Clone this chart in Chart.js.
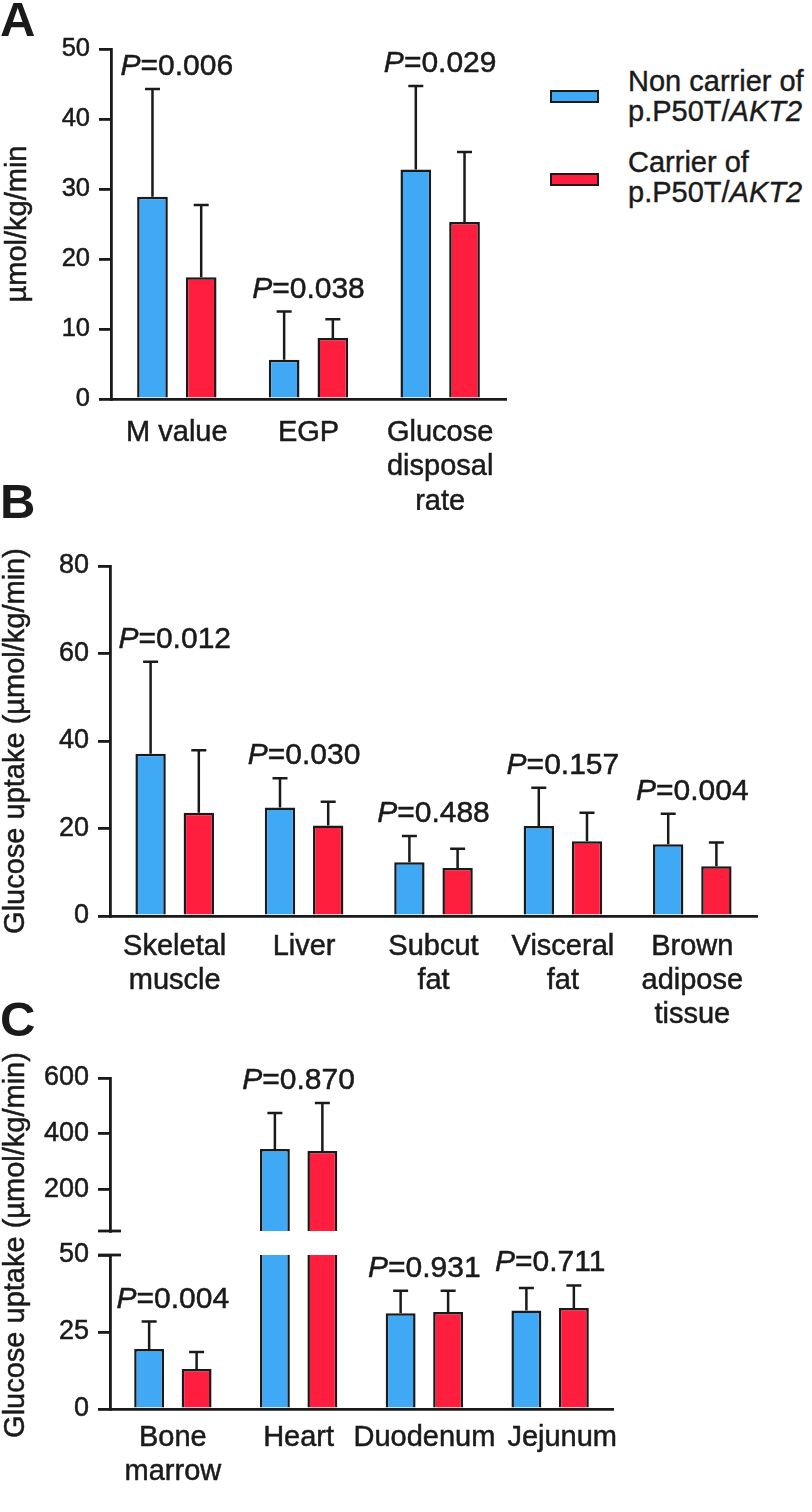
<!DOCTYPE html>
<html>
<head>
<meta charset="utf-8">
<script src="https://cdn.jsdelivr.net/npm/chart.js@4.4.1/dist/chart.umd.min.js"></script>
<style>
  body { margin: 0; background: #fff; width: 812px; height: 1512px; position: relative; overflow: hidden;
         font-family: "Liberation Sans", Arial, sans-serif; color: #1a1a1a; }
  canvas { position: absolute; left: 0; }
  .panel { position: absolute; left: 0; font-weight: bold; font-size: 49px; line-height: 49px; }
  .swatch { position: absolute; left: 550px; width: 49px; height: 13px; border: 2.5px solid #1a1a1a; box-sizing: border-box; }
  .legtext { position: absolute; left: 628px; font-size: 29px; line-height: 30px; white-space: nowrap;
             -webkit-text-stroke: 0.4px #1a1a1a; }
</style>
</head>
<body>
<canvas id="chartA" width="540" height="510" style="top:0px"></canvas>
<canvas id="chartB" width="812" height="510" style="top:530px"></canvas>
<canvas id="chartCTop" width="700" height="472" style="top:1040px"></canvas>
<canvas id="chartCBottom" width="700" height="472" style="top:1040px"></canvas>
<div class="panel" style="top:-5px">A</div>
<div class="panel" style="top:477px">B</div>
<div class="panel" style="top:995px">C</div>
<div id="legend"></div>
<script>
const ink = '#1a1a1a';
const fontFamily = '"Liberation Sans", Arial, sans-serif';
Chart.defaults.font.family = fontFamily;

// legend / series
const seriesNames = ['Non carrier of', 'Carrier of'];
const variantText = 'p.P50T/';
const geneText = 'AKT2';
const seriesColors = ['#3FA9F5', '#FF1E3E'];

// panel A
const catsA = [['M value'], ['EGP'], ['Glucose', 'disposal', 'rate']];
const nonA = [28.9, 5.6, 32.8];
const nonAsd = [15.4, 6.9, 11.9];
const carA = [17.4, 8.7, 25.3];
const carAsd = [10.3, 2.7, 10.0];
const pA = ['0.006', '0.038', '0.029'];
const ticksA = [0, 10, 20, 30, 40, 50];

// panel B
const catsB = [['Skeletal', 'muscle'], ['Liver'], ['Subcut', 'fat'], ['Visceral', 'fat'], ['Brown', 'adipose', 'tissue']];
const nonB = [37.1, 24.8, 12.3, 20.6, 16.4];
const nonBsd = [21.0, 6.7, 6.0, 8.7, 7.0];
const carB = [23.6, 20.7, 11.0, 17.1, 11.4];
const carBsd = [14.3, 5.4, 4.4, 6.5, 5.4];
const pB = ['0.012', '0.030', '0.488', '0.157', '0.004'];
const ticksB = [0, 20, 40, 60, 80];

// panel C (broken axis at 50)
const catsC = [['Bone', 'marrow'], ['Heart'], ['Duodenum'], ['Jejunum']];
const nonC = [19.5, 345, 31.1, 32.0];
const nonCsd = [8.9, 129, 7.3, 7.3];
const carC = [13.0, 338, 31.5, 32.8];
const carCsd = [5.5, 172, 6.9, 7.3];
const pC = ['0.004', '0.870', '0.931', '0.711'];
const ticksCLow = [0, 25, 50];
const ticksCHigh = [200, 400, 600];
const cBreak = 50;

// legend
const legendTops = [[66, 90], [147, 173]];
const legend = document.getElementById('legend');
seriesNames.forEach((name, k) => {
  const sw = document.createElement('div');
  sw.className = 'swatch';
  sw.style.top = legendTops[k][1] + 'px';
  sw.style.background = seriesColors[k];
  legend.appendChild(sw);
  const tx = document.createElement('div');
  tx.className = 'legtext';
  tx.style.top = legendTops[k][0] + 'px';
  tx.innerHTML = name + '<br>' + variantText + '<i>' + geneText + '</i>';
  legend.appendChild(tx);
});

// error bars, P values, axis title, break marks
const annotPlugin = {
  id: 'annot',
  afterDatasetsDraw(chart, args, opts) {
    const ctx = chart.ctx, xs = chart.scales.x, ys = chart.scales.y;
    const tops = [];
    ctx.save();
    ctx.strokeStyle = ink;
    ctx.lineWidth = 2.5;
    chart.data.datasets.forEach((ds, di) => {
      chart.getDatasetMeta(di).data.forEach((bar, i) => {
        const v = ds.data[i];
        if (v == null) return;
        const t = v + ds.sd[i];
        if (t > ys.max) return;
        const py = ys.getPixelForValue(t);
        ctx.beginPath();
        ctx.moveTo(bar.x, bar.y);
        ctx.lineTo(bar.x, py);
        ctx.moveTo(bar.x - 7.5, py);
        ctx.lineTo(bar.x + 7.5, py);
        ctx.stroke();
        tops[i] = Math.min(tops[i] === undefined ? Infinity : tops[i], py);
      });
    });
    const size = 30;
    const fN = size + 'px ' + fontFamily, fI = 'italic ' + size + 'px ' + fontFamily;
    ctx.fillStyle = ink;
    ctx.lineWidth = 0.5;
    ctx.textAlign = 'left';
    ctx.textBaseline = 'alphabetic';
    (opts.pvals || []).forEach((p, i) => {
      if (tops[i] === undefined) return;
      const cx = xs.getPixelForValue(i);
      const y = tops[i] - 14;
      ctx.font = fI;
      const wP = ctx.measureText('P').width;
      ctx.font = fN;
      const rest = '=' + p;
      const wR = ctx.measureText(rest).width;
      const x0 = cx - (wP + wR) / 2;
      ctx.font = fI;
      ctx.fillText('P', x0, y);
      ctx.strokeText('P', x0, y);
      ctx.font = fN;
      ctx.fillText(rest, x0 + wP, y);
      ctx.strokeText(rest, x0 + wP, y);
    });
    ctx.restore();
  },
  afterDraw(chart, args, opts) {
    const ctx = chart.ctx, a = chart.chartArea;
    ctx.save();
    if (opts.title) {
      ctx.fillStyle = ink;
      ctx.strokeStyle = ink;
      ctx.lineWidth = 0.5;
      ctx.font = '29px ' + fontFamily;
      ctx.textAlign = 'center';
      ctx.textBaseline = 'alphabetic';
      ctx.translate(opts.title.x, opts.title.y);
      ctx.rotate(-Math.PI / 2);
      ctx.fillText(opts.title.text, 0, 0);
      ctx.strokeText(opts.title.text, 0, 0);
      ctx.setTransform(1, 0, 0, 1, 0, 0);
    }
    if (opts.breakMark) {
      const y = opts.breakMark === 'bottom' ? a.bottom : a.top;
      ctx.strokeStyle = ink;
      ctx.lineWidth = 2.8;
      ctx.beginPath();
      ctx.moveTo(a.left - 12, y);
      ctx.lineTo(a.left + 11, y);
      ctx.stroke();
    }
    ctx.restore();
  }
};

function barChart(id, o) {
  const canvas = document.getElementById(id);
  const W = canvas.width, H = canvas.height;
  return new Chart(canvas, {
    type: 'bar',
    data: {
      labels: o.labels,
      datasets: o.series.map((s, k) => ({
        label: seriesNames[k],
        data: s.data,
        sd: s.sd,
        backgroundColor: seriesColors[k],
        borderColor: ink,
        borderWidth: 2.5,
        categoryPercentage: o.catPct,
        barPercentage: 0.63,
        clip: 0
      }))
    },
    options: {
      responsive: false,
      animation: false,
      events: [],
      layout: { padding: { left: 0, top: o.area.top, right: W - o.area.right, bottom: o.showX ? 0 : H - o.area.bottom } },
      plugins: {
        legend: { display: false },
        tooltip: { enabled: false },
        annot: { pvals: o.pvals, title: o.title, breakMark: o.breakMark }
      },
      scales: {
        x: {
          display: o.showX,
          grid: { display: false, drawTicks: false },
          border: { display: true, color: ink, width: 2.8 },
          ticks: {
            color: ink, font: { size: 29, lineHeight: 1.18 }, padding: o.xPad, maxRotation: 0, autoSkip: false,
            textStrokeColor: ink, textStrokeWidth: 0.5,
            callback: function (v, i) {
              const lab = this.getLabelForValue(v);
              const pad = (o.labelPad && o.labelPad[i]) || '';
              return Array.isArray(lab) ? lab.map(l => pad + l) : pad + lab;
            }
          },
          afterFit: o.showX ? (s => { s.height = H - o.area.bottom; }) : undefined
        },
        y: {
          min: o.yMin,
          max: o.yMax,
          grid: { drawOnChartArea: false, drawTicks: true, tickLength: 12, color: ink, lineWidth: 2.8 },
          border: { display: true, color: ink, width: 2.8 },
          ticks: { color: ink, font: { size: o.tickSize }, padding: 9, textStrokeColor: ink, textStrokeWidth: 0.5 },
          afterBuildTicks: s => { s.ticks = o.yTicks.map(v => ({ value: v })); },
          afterFit: s => { s.width = o.area.left; }
        }
      }
    },
    plugins: [annotPlugin]
  });
}

barChart('chartA', {
  labels: catsA,
  series: [{ data: nonA, sd: nonAsd }, { data: carA, sd: carAsd }],
  yMin: 0, yMax: 50, yTicks: ticksA, tickSize: 25.5,
  area: { left: 111, top: 49, right: 506, bottom: 399 },
  catPct: 0.74, xPad: 17, showX: true,
  pvals: pA,
  title: { text: 'µmol/kg/min', x: 26, y: 224 }
});

barChart('chartB', {
  labels: catsB,
  series: [{ data: nonB, sd: nonBsd }, { data: carB, sd: carBsd }],
  yMin: 0, yMax: 80, yTicks: ticksB, tickSize: 27,
  area: { left: 110, top: 36, right: 757, bottom: 386 },
  catPct: 0.745, xPad: 13.5, showX: true,
  pvals: pB,
  title: { text: 'Glucose uptake (µmol/kg/min)', x: 24, y: 211 }
});

barChart('chartCTop', {
  labels: catsC,
  series: [
    { data: nonC.map(v => v > cBreak ? v : null), sd: nonCsd },
    { data: carC.map(v => v > cBreak ? v : null), sd: carCsd }
  ],
  yMin: cBreak, yMax: 600, yTicks: ticksCHigh, tickSize: 27,
  area: { left: 110, top: 38, right: 613, bottom: 191 },
  catPct: 0.755, xPad: 12, showX: false,
  pvals: pC,
  breakMark: 'bottom'
});

barChart('chartCBottom', {
  labels: catsC,
  series: [{ data: nonC, sd: nonCsd }, { data: carC, sd: carCsd }],
  yMin: 0, yMax: cBreak, yTicks: ticksCLow, tickSize: 27,
  area: { left: 110, top: 215, right: 613, bottom: 369 },
  catPct: 0.755, xPad: 12, showX: true,
  labelPad: ['', '', '', '\u00a0\u00a0\u00a0'],
  pvals: pC,
  title: { text: 'Glucose uptake (µmol/kg/min)', x: 24, y: 205 },
  breakMark: 'top'
});
</script>
</body>
</html>
